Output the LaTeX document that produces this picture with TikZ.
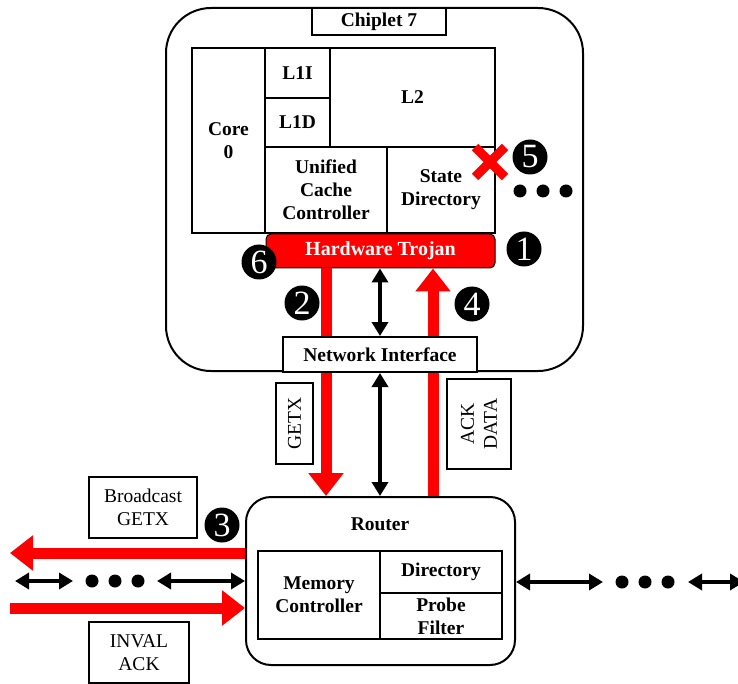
\documentclass[tikz,border=0pt]{standalone}
\usepackage{fontspec}
\setmainfont{Liberation Serif}
\usetikzlibrary{arrows.meta}
\begin{document}
\begin{tikzpicture}[x=1pt,y=-1pt,
  blk/.style={draw, line width=2pt, inner sep=0pt, align=center, fill=white,
    font=\bfseries\fontsize{19.5}{23}\selectfont},
  lbl/.style={draw, line width=1.3pt, inner sep=0pt, align=center, fill=white,
    font=\fontsize{19.5}{23}\selectfont},
  num/.style={circle, fill=black, text=white, minimum size=35pt, inner sep=0pt,
    font=\fontsize{34}{34}\selectfont},
  dotc/.style={circle, fill=black, minimum size=13pt, inner sep=0pt},
  redarr/.style={draw=red, line width=11pt, -{Triangle[width=34pt,length=23pt]}},
  blkarr/.style={draw=black, line width=3.5pt,
    {Triangle[width=16pt,length=14pt]}-{Triangle[width=16pt,length=14pt]}}
]
\useasboundingbox (0,0) rectangle (738,684);
\clip (0,0) rectangle (738,684);
\fill[white] (0,0) rectangle (738,684);

% chiplet
\node[draw, line width=2pt, rounded corners=45pt, minimum width=417pt, minimum height=363pt, inner sep=0pt] (chip) at (374.5,189.5) {};
\node[blk, minimum width=134pt, minimum height=27pt] (title) at (379,21.5) {Chiplet 7};
\node[blk, minimum width=73pt, minimum height=185pt] (core) at (228.5,140.5) {Core\\0};
\node[blk, minimum width=65pt, minimum height=50pt] (l1i) at (297.5,73) {L1I};
\node[blk, minimum width=65pt, minimum height=49pt] (l1d) at (297.5,122.5) {L1D};
\node[blk, minimum width=165pt, minimum height=99pt] (l2) at (412.5,97.5) {L2};
\node[blk, minimum width=122pt, minimum height=86pt] (ucc) at (326,190) {Unified\\Cache\\Controller};
\node[blk, minimum width=108pt, minimum height=86pt] (sd) at (441,190) {State\\Directory};
\node[draw=black, line width=1pt, fill=red, rounded corners=5pt, inner sep=0pt,
  minimum width=229pt, minimum height=34pt, text=white,
  font=\bfseries\fontsize{20}{23}\selectfont] (troj) at (380.5,251) {Hardware Trojan};

% red X
\coordinate (xc) at (490,162);
\draw[red, line width=9pt] ([shift={(-15,-15)}]xc) -- ([shift={(15,15)}]xc);
\draw[red, line width=9pt] ([shift={(-15,15)}]xc) -- ([shift={(15,-15)}]xc);

% dots in chiplet
\node[dotc] (d1) at (520,191) {};
\node[dotc] (d2) at (543,191) {};
\node[dotc] (d3) at (566,191) {};

% router
\node[draw, line width=2pt, rounded corners=25pt, minimum width=269pt, minimum height=168pt, inner sep=0pt] (router) at (380.5,581) {};
\node[font=\bfseries\fontsize{19.5}{23}\selectfont, inner sep=0pt] (rlabel) at (380,524) {Router};
\node[blk, minimum width=122pt, minimum height=88pt] (mc) at (319,595) {Memory\\Controller};
\node[blk, minimum width=122pt, minimum height=42pt] (dir) at (441,572) {Directory};
\node[blk, minimum width=122pt, minimum height=46pt] (pf) at (441,616) {Probe\\Filter};

% x/y references
\coordinate (gx) at (326,0);
\coordinate (mx) at (380,0);
\coordinate (ax) at (433,0);
\coordinate (by) at (0,553);
\coordinate (ky) at (0,581);
\coordinate (iy) at (0,608);
\coordinate (bend) at (10,553);
\coordinate (istart) at (10,608);

% red arrows (behind the network interface)
\draw[redarr] (troj.south -| gx) -- (router.north -| gx);
\draw[redarr] (router.north -| ax) -- (troj.south -| ax);
\draw[redarr] (router.west |- by) -- (bend);
\draw[redarr] (istart) -- (router.west |- iy);

\node[blk, minimum width=194pt, minimum height=35pt] (ni) at (380,354.5) {Network Interface};

% labels
\node[lbl, rotate=90, minimum width=81pt, minimum height=37pt] (getx) at (294.5,423.5) {GETX};
\node[lbl, rotate=90, minimum width=90pt, minimum height=64pt] (ackd) at (479,424) {ACK\\DATA};
\node[lbl, minimum width=108pt, minimum height=61pt] (bcast) at (143,507.5) {Broadcast\\GETX};
\node[lbl, minimum width=100pt, minimum height=61pt] (inval) at (139,652.5) {INVAL\\ACK};

% black arrows
\draw[blkarr] (troj.south -| mx) -- (ni.north -| mx);
\draw[blkarr] (ni.south -| mx) -- (router.north -| mx);

\coordinate (la) at (15,581);
\coordinate (lb) at (73,581);
\coordinate (lc) at (157,581);
\draw[blkarr] (la) -- (lb);
\node[dotc] (ld1) at (92,581) {};
\node[dotc] (ld2) at (115,581) {};
\node[dotc] (ld3) at (138,581) {};
\draw[blkarr] (lc) -- (router.west |- ky);

\coordinate (ra) at (603,582);
\coordinate (rb) at (688,582);
\coordinate (rc) at (744,582);
\draw[blkarr] (router.east |- ra) -- (ra);
\node[dotc] (rd1) at (622,582) {};
\node[dotc] (rd2) at (645,582) {};
\node[dotc] (rd3) at (668,582) {};
\draw[blkarr] (rb) -- (rc);

% numbers
\node[num] (n1) at (524,249) {1};
\node[num] (n2) at (302,303) {2};
\node[num] (n3) at (222,525) {3};
\node[num] (n4) at (472,304) {4};
\node[num] (n5) at (530,157) {5};
\node[num] (n6) at (259,262) {6};
\end{tikzpicture}
\end{document}
